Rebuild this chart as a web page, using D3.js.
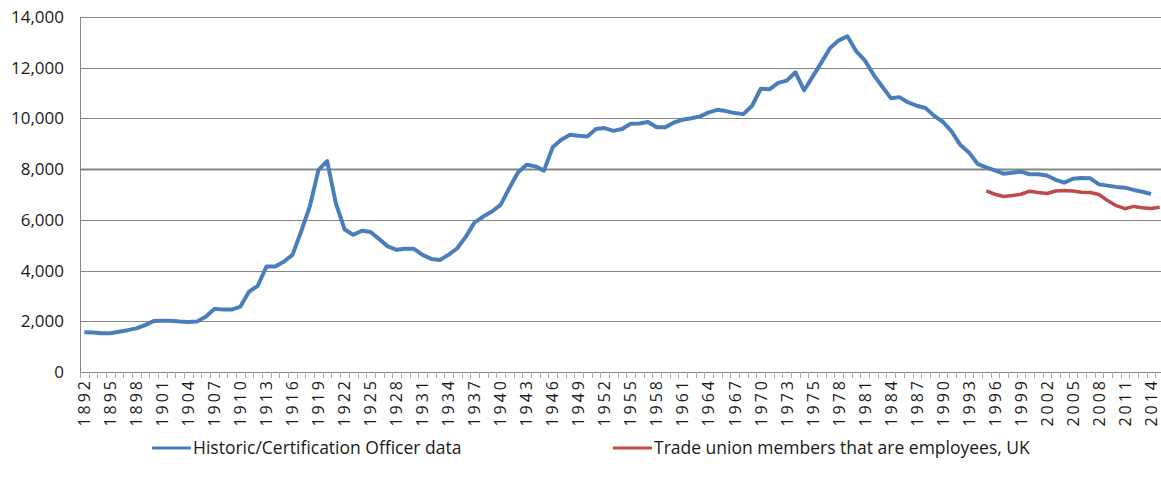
<!DOCTYPE html>
<html>
<head>
<meta charset="utf-8">
<script src="https://cdn.jsdelivr.net/npm/d3@7"></script>
<style>
   body { margin: 0; background: #fff; }
   svg { display: block; font-family: "Open Sans", sans-serif; }
</style>
</head>
<body>
<div id="chart"></div>
<script>
// categories (one spot per year, 1974 shows up twice in the source sheet)
var years = [1892, 1893, 1894, 1895, 1896, 1897, 1898, 1899, 1900, 1901, 1902, 1903, 1904, 1905,
   1906, 1907, 1908, 1909, 1910, 1911, 1912, 1913, 1914, 1915, 1916, 1917, 1918, 1919, 1920, 1921,
   1922, 1923, 1924, 1925, 1926, 1927, 1928, 1929, 1930, 1931, 1932, 1933, 1934, 1935, 1936, 1937,
   1938, 1939, 1940, 1941, 1942, 1943, 1944, 1945, 1946, 1947, 1948, 1949, 1950, 1951, 1952, 1953,
   1954, 1955, 1956, 1957, 1958, 1959, 1960, 1961, 1962, 1963, 1964, 1965, 1966, 1967, 1968, 1969,
   1970, 1971, 1972, 1973, 1974, 1974, 1975, 1976, 1977, 1978, 1979, 1980, 1981, 1982, 1983, 1984,
   1985, 1986, 1987, 1988, 1989, 1990, 1991, 1992, 1993, 1994, 1995, 1996, 1997, 1998, 1999, 2000,
   2001, 2002, 2003, 2004, 2005, 2006, 2007, 2008, 2009, 2010, 2011, 2012, 2013, 2014, 2015];

// Historic/Certification Officer data, thousands, starts at 1892
var historic = [1570, 1560, 1530, 1530, 1590, 1650, 1720, 1850, 2010, 2020, 2020, 1990, 1970, 1990,
   2180, 2490, 2460, 2460, 2580, 3170, 3400, 4160, 4160, 4350, 4620, 5540, 6530, 7970, 8320, 6660,
   5630, 5410, 5570, 5520, 5240, 4950, 4820, 4860, 4860, 4620, 4460, 4420, 4620, 4880, 5340, 5900,
   6130, 6330, 6590, 7250, 7870, 8170, 8110, 7940, 8860, 9160, 9360, 9320, 9290, 9580, 9620, 9510,
   9580, 9790, 9800, 9860, 9650, 9650, 9840, 9950, 10010, 10080, 10240, 10340, 10290, 10210, 10170, 10500,
   11170, 11150, 11400, 11490, 11820, 11110, 11660, 12210, 12780, 13080, 13240, 12650, 12290, 11730, 11260, 10800,
   10840, 10630, 10500, 10410, 10100, 9870, 9490, 8960, 8660, 8210, 8070, 7950, 7820, 7860, 7900, 7800,
   7800, 7750, 7580, 7470, 7620, 7650, 7640, 7400, 7350, 7300, 7270, 7180, 7110, 7020];

// Trade union members that are employees, UK, thousands, starts at 1995
var employees = [7140, 7010, 6920, 6960, 7010, 7130, 7080, 7040, 7140, 7160, 7140, 7090, 7080, 7000,
   6760, 6560, 6440, 6530, 6480, 6450, 6500];
var employeesStart = 104;   // index of 1995 in years

var yTicks = [0, 2000, 4000, 6000, 8000, 10000, 12000, 14000];
var seriesNames = ["Historic/Certification Officer data", "Trade union members that are employees, UK"];
var seriesColors = ["#4a7ebb", "#be4b48"];

/** Draws the whole chart. Plot box sits roughly where the excel one was. */
function draw_chart() {

   var width = 1161, height = 489;
   var margin = {top: 17, right: 0, bottom: 117, left: 80};
   var plotW = 1164 - margin.left,
      plotH = height - margin.top - margin.bottom;

   var svg = d3.select("#chart")
               .append("svg")
               .attr("width", width)
               .attr("height", height);

   var g = svg.append("g")
              .attr("transform", "translate(" + margin.left + "," + margin.top + ")");

   var x = d3.scaleBand()
             .domain(d3.range(years.length))
             .range([0, plotW]);

   var y = d3.scaleLinear()
             .domain([0, 14000])
             .range([plotH, 0]);

   // gridlines (the 8,000 one renders heavier in the original)
   g.append("g")
    .selectAll("line")
    .data(yTicks)
    .join("line")
    .attr("x1", 0)
    .attr("x2", plotW)
    .attr("y1", function(d) { return Math.round(y(d)) + 0.5; })
    .attr("y2", function(d) { return Math.round(y(d)) + 0.5; })
    .attr("stroke", "#868686")
    .attr("stroke-width", function(d) { return d == 8000 ? 2 : 1; });

   // y axis labels
   var yAxis = g.append("g")
                .call(d3.axisLeft(y).tickValues(yTicks).tickSize(0).tickPadding(16)
                        .tickFormat(d3.format(",")));
   yAxis.select(".domain").attr("stroke", "#868686");
   yAxis.selectAll("text")
        .attr("font-family", "Open Sans")
        .attr("font-size", 17)
        .attr("fill", "#1a1a1a");

   // x axis line + a tick mark at every category edge
   g.append("line")
    .attr("x1", 0).attr("x2", plotW)
    .attr("y1", plotH + 0.5).attr("y2", plotH + 0.5)
    .attr("stroke", "#868686");
   g.append("g")
    .selectAll("line")
    .data(d3.range(years.length + 1))
    .join("line")
    .attr("x1", function(i) { return Math.round(i * x.step()) + 0.5; })
    .attr("x2", function(i) { return Math.round(i * x.step()) + 0.5; })
    .attr("y1", plotH)
    .attr("y2", plotH + 6)
    .attr("stroke", "#a6a6a6");

   // year labels every third category, turned on their side
   var xAxis = g.append("g")
                .attr("transform", "translate(0," + plotH + ")")
                .call(d3.axisBottom(x).tickValues(d3.range(0, years.length, 3)).tickSize(0)
                        .tickFormat(function(i) { return years[i]; }));
   xAxis.select(".domain").remove();
   xAxis.selectAll("text")
        .attr("font-family", "Open Sans")
        .attr("font-size", 16)
        .attr("letter-spacing", 3)
        .attr("fill", "#1a1a1a")
        .attr("text-anchor", "end")
        .attr("transform", "rotate(-90)")
        .attr("x", -6)
        .attr("y", 0)
        .attr("dy", "0.36em");

   var line = d3.line()
                .x(function(d) { return x(d.i) + x.bandwidth() / 2; })
                .y(function(d) { return y(d.v); });

   var histData = historic.map(function(v, i) { return {i: i, v: v}; });
   var empData = employees.map(function(v, i) { return {i: i + employeesStart, v: v}; });

   g.append("path")
    .datum(histData)
    .attr("fill", "none")
    .attr("stroke", seriesColors[0])
    .attr("stroke-width", 4)
    .attr("stroke-linejoin", "round")
    .attr("d", line);

   g.append("path")
    .datum(empData)
    .attr("fill", "none")
    .attr("stroke", seriesColors[1])
    .attr("stroke-width", 3.5)
    .attr("stroke-linejoin", "round")
    .attr("d", line);

   // legend
   var legendX = [152, 613];
   var legend = svg.append("g")
                   .selectAll("g")
                   .data(seriesNames)
                   .join("g")
                   .attr("transform", function(d, i) { return "translate(" + legendX[i] + ",448)"; });
   legend.append("line")
         .attr("x1", 0).attr("x2", 39)
         .attr("stroke", function(d, i) { return seriesColors[i]; })
         .attr("stroke-width", 3.2);
   legend.append("text")
         .attr("x", 41)
         .attr("dy", "0.36em")
         .attr("font-size", 17.5)
         .attr("fill", "#1a1a1a")
         .text(function(d) { return d; });
}

draw_chart();
</script>
</body>
</html>
